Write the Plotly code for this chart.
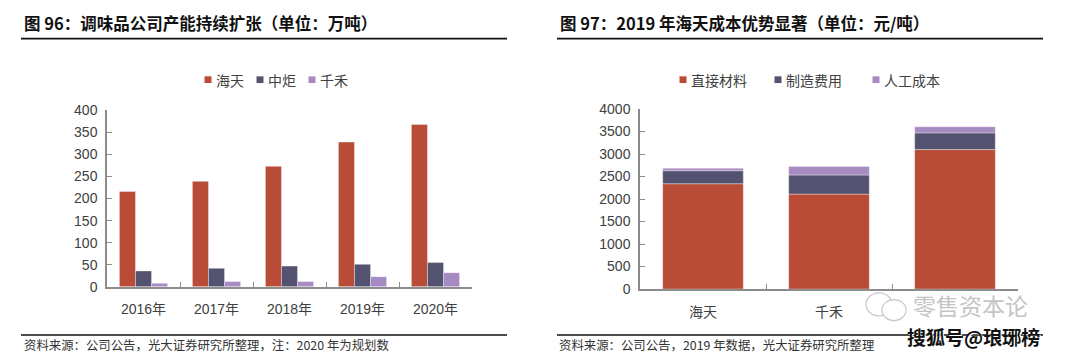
import plotly.graph_objects as go

# ---------------- data ----------------
years = ["2016年", "2017年", "2018年", "2019年", "2020年"]
haitian_cap = [216, 239, 273, 328, 368]
zhongju_cap = [36, 42, 47, 51, 55]
qianhe_cap = [8, 12, 12, 23, 32]
cap_names = ["海天", "中炬", "千禾"]

companies = ["海天", "千禾", "中炬"]
company_labels = ["海天", "千禾", ""]  # third label is hidden under the watermark in the source
material_cost = [2340, 2110, 3100]
manufacturing_cost = [290, 425, 370]
labor_cost = [55, 190, 135]
cost_names = ["直接材料", "制造费用", "人工成本"]

left_yticks = [0, 50, 100, 150, 200, 250, 300, 350, 400]
right_yticks = [0, 500, 1000, 1500, 2000, 2500, 3000, 3500, 4000]

title_left = "图 96：调味品公司产能持续扩张（单位：万吨）"
title_right = "图 97：2019 年海天成本优势显著（单位：元/吨）"
source_left = "资料来源：公司公告，光大证券研究所整理，注：2020 年为规划数"
source_right = "资料来源：公司公告，2019 年数据，光大证券研究所整理"

# ---------------- style ----------------
W, H = 1080, 363
RED = "#B94C36"
NAVY = "#535371"
PURPLE = "#A68BC2"
colors = [RED, NAVY, PURPLE]
FONT = "Liberation Sans, Arial, Noto Sans CJK SC, sans-serif"
CJK = "Noto Sans CJK SC, sans-serif"
AXIS_GREY = "#8c8c8c"
TXT = "#404040"


def px_x(v):
    return v / W


def px_y(v):
    return 1 - v / H


fig = go.Figure()

# left chart: grouped bars
for i, (name, vals) in enumerate(zip(cap_names, [haitian_cap, zhongju_cap, qianhe_cap])):
    fig.add_trace(go.Bar(
        x=years, y=vals, name=name, xaxis="x", yaxis="y",
        marker=dict(color=colors[i], line=dict(color="rgba(255,255,255,0.6)", width=0.6)),
        offsetgroup=f"g{i}", showlegend=False,
    ))

# right chart: stacked bars (manual bases so left chart can stay grouped)
bases = [
    [0] * len(companies),
    material_cost,
    [a + b for a, b in zip(material_cost, manufacturing_cost)],
]
for i, (name, vals) in enumerate(zip(cost_names, [material_cost, manufacturing_cost, labor_cost])):
    fig.add_trace(go.Bar(
        x=companies, y=vals, base=bases[i], name=name, xaxis="x2", yaxis="y2",
        marker=dict(color=colors[i], line=dict(color="rgba(255,255,255,0.6)", width=0.6)),
        offsetgroup="stack", width=0.64, showlegend=False,
    ))

axis_common = dict(
    showline=True, linecolor=AXIS_GREY, linewidth=1.5,
    ticks="inside", ticklen=5, tickcolor=AXIS_GREY, tickwidth=1,
    showgrid=False, zeroline=False,
    tickfont=dict(family=FONT, size=14, color=TXT),
)

fig.update_layout(
    width=W, height=H,
    margin=dict(l=0, r=0, t=0, b=0),
    paper_bgcolor="white", plot_bgcolor="white",
    barmode="group", bargap=0.34, bargroupgap=0,
    font=dict(family=FONT, color=TXT),
    xaxis=dict(domain=[px_x(107), px_x(472)], anchor="y", tickson="boundaries",
               ticklabelstandoff=9, **axis_common),
    yaxis=dict(domain=[px_y(291.7), px_y(107)], anchor="x", range=[0, 400],
               tickvals=left_yticks, ticklabelstandoff=5, **axis_common),
    xaxis2=dict(domain=[px_x(640), px_x(1018)], anchor="y2", tickson="boundaries",
                tickmode="array", tickvals=companies, ticktext=company_labels,
                ticklabelstandoff=9, **axis_common),
    yaxis2=dict(domain=[px_y(294), px_y(105.7)], anchor="x2", range=[0, 4000],
                tickvals=right_yticks, ticklabelstandoff=5, **axis_common),
)

# legends (swatch + label) above each chart
legend_specs = [
    (cap_names, [208, 260, 312]),
    (cost_names, [683, 778, 876]),
]
for names, centers in legend_specs:
    for i, (name, cx) in enumerate(zip(names, centers)):
        fig.add_shape(type="rect", xref="paper", yref="paper",
                      x0=px_x(cx - 3.5), x1=px_x(cx + 3.5),
                      y0=px_y(78.5), y1=px_y(71.5),
                      fillcolor=colors[i], line=dict(width=0))
        fig.add_annotation(x=px_x(cx + 6), y=px_y(75), xref="paper", yref="paper",
                           xanchor="left", yanchor="middle", showarrow=False,
                           text=name, font=dict(family=CJK, size=14, color=TXT))

# titles
for xs, txt in [(22, title_left), (558, title_right)]:
    fig.add_annotation(x=px_x(xs), y=px_y(15.5), xref="paper", yref="paper",
                       xanchor="left", yanchor="middle", showarrow=False,
                       text=f"<b>{txt}</b>", font=dict(family=CJK, size=16.5, color="#111111"))
# sources
for xs, txt in [(22, source_left), (557, source_right)]:
    fig.add_annotation(x=px_x(xs), y=px_y(353), xref="paper", yref="paper",
                       xanchor="left", yanchor="middle", showarrow=False,
                       text=txt, font=dict(family=CJK, size=12.4, color="#333333"))

# rule lines
for (x0, x1) in [(21, 507), (557, 1043)]:
    for yy in (32, 342):
        fig.add_shape(type="line", xref="paper", yref="paper",
                      x0=px_x(x0), x1=px_x(x1), y0=px_y(yy), y1=px_y(yy),
                      line=dict(color="#111111", width=1.6))

# watermark
fig.add_shape(type="circle", xref="paper", yref="paper",
              x0=px_x(866), x1=px_x(892), y0=px_y(322), y1=px_y(298),
              line=dict(color="#c8c8c8", width=1.2), fillcolor="white")
fig.add_shape(type="circle", xref="paper", yref="paper",
              x0=px_x(882), x1=px_x(906), y0=px_y(327), y1=px_y(305),
              line=dict(color="#c8c8c8", width=1.2), fillcolor="white")
fig.add_annotation(x=px_x(912), y=px_y(311), xref="paper", yref="paper",
                   xanchor="left", yanchor="middle", showarrow=False,
                   text="零售资本论", borderpad=0,
                   font=dict(family=CJK, size=23, color="#c4c4c4"))
fig.add_annotation(x=px_x(906), y=px_y(344), xref="paper", yref="paper",
                   xanchor="left", yanchor="middle", showarrow=False,
                   text="<b>搜狐号@琅琊榜</b>", borderpad=0,
                   font=dict(family=CJK, size=19, color="#111111",
                             shadow="1px 1px 0px white"))

fig.write_html("out.html")
